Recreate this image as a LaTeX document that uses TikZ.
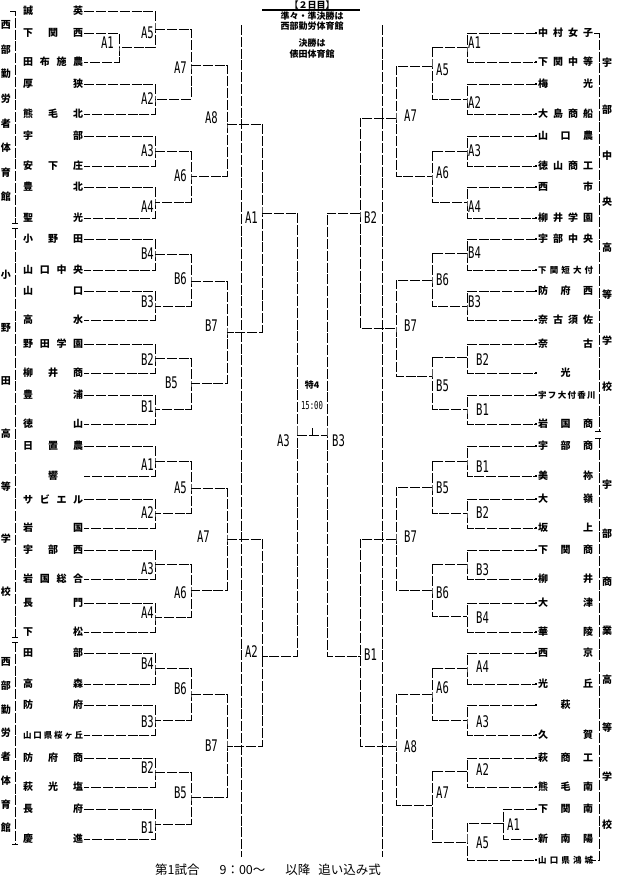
\documentclass[tikz,border=0pt]{standalone}
\usepackage{fontspec}
\setmainfont{Noto Sans CJK JP}
\newfontfamily\labfont[FakeStretch=0.66]{DejaVu Sans Mono}
\usetikzlibrary{arrows.meta}

\newcommand\sm{\fontsize{8.5}{9}\selectfont}

\tikzset{
  ln/.style={line width=1pt, dash pattern=on 10pt off 1.8pt},
  team/.style={inner xsep=1pt, inner ysep=0pt, font=\fontsize{10}{10}\selectfont\bfseries},
  mlab/.style={inner sep=0pt, font=\labfont\fontsize{16}{16}\selectfont},
  side/.style={inner sep=0pt, font=\fontsize{10}{10}\selectfont\bfseries},
  note/.style={inner sep=0pt, font=\fontsize{9}{9}\selectfont\bfseries},
  sq/.style={{Square[length=1.6pt,width=1.6pt]}-{Square[length=1.6pt,width=1.6pt]}},
}

\begin{document}
\begin{tikzpicture}[x=1pt,y=-1pt]
  \useasboundingbox (0,0) rectangle (616,886);

  % Heading
  \node[note] (day) at (312,5) {【２日目】};
  \draw[line width=1.6pt] (262,10) -- (360,10);
  \node[note] (semi1) at (312,16) {準々・準決勝は};
  \node[note] (semi2) at (312,26) {西部勤労体育館};
  \node[note] (fin1) at (312,43) {決勝は};
  \node[note] (fin2) at (312,54) {俵田体育館};

  % Centre separators
  \draw[ln] (241,25) -- (241,857);
  \draw[ln] (382,25) -- (382,857);

  % Left teams
  \foreach \k/\y/\nm in {0/11/誠 英, 1/33/下 関 西, 2/62/田 布 施 農, 3/84/厚 狭,
      4/114/熊 毛 北, 5/136/宇 部, 6/166/安 下 庄, 7/187/豊 北, 8/218/聖 光,
      9/239/小 野 田, 10/270/山 口 中 央, 11/291/山 口, 12/320/高 水,
      13/344/野 田 学 園, 14/373/柳 井 商, 15/395/豊 浦, 16/424/徳 山,
      17/446/日 置 農, 18/476/\hfil 響\hfil, 19/499/サ ビ エ ル, 20/528/岩 国,
      21/550/宇 部 西, 22/579/岩 国 総 合, 23/603/長 門, 24/632/下 松,
      25/653/田 部, 26/684/高 森, 27/705/防 府, 28/735/\sm 山 口 県 桜 ヶ 丘,
      29/758/防 府 商, 30/787/萩 光 塩, 31/809/長 府, 32/839/慶 進} {
    \node[team, anchor=west] (l\k) at (22,\y) {\makebox[60pt][s]{\nm}};
  }

  % Right teams
  \foreach \k/\y/\nm in {1/33/中 村 女 子, 2/62/下 関 中 等, 3/84/梅 光,
      4/114/大 島 商 船, 5/136/山 口 農, 6/166/徳 山 商 工, 7/187/西 市,
      8/218/柳 井 学 園, 9/239/宇 部 中 央, 10/270/\sm 下 関 短 大 付,
      11/291/防 府 西, 12/320/奈 古 須 佐, 13/344/奈 古, 14/373/\hfil 光\hfil,
      15/395/\sm 宇 フ 大 付 香 川, 16/424/岩 国 商, 17/446/宇 部 商,
      18/476/美 祢, 19/499/大 嶺, 20/528/坂 上, 21/550/下 関 商, 22/579/柳 井,
      23/603/大 津, 24/632/華 陵, 25/653/西 京, 26/684/光 丘,
      27/705/\hfil 萩\hfil, 28/735/久 賀, 29/758/萩 商 工, 30/787/熊 毛 南,
      31/809/下 関 南, 32/839/新 南 陽, 33/860/\sm 山 口 県 鴻 城} {
    \node[team, anchor=west] (r\k) at (537,\y) {\makebox[55pt][s]{\nm}};
  }

  % Left match points
  \foreach \c/\t/\x/\y/\d/\o in {LA1t/A1/119/47/5/4, LA5t/A5/155/29/1/-4,
      LA2t/A2/155/99/1/0, LA3t/A3/155/151/1/0, LA4t/A4/155/202/1/-5,
      LA7t/A7/191/65/4/-3, LA6t/A6/191/176/4/0, LA8t/A8/227/124/9/6,
      LB4t/B4/155/254/1/0, LB3t/B3/155/306/1/4, LB2t/B2/155/358/1/-2,
      LB1t/B1/155/409/1/2, LB6t/B6/191/281/4/2, LB5t/B5/191/383/13/0,
      LB7t/B7/227/332/9/6, LA1b/A1/155/461/1/-4, LA2b/A2/155/513/1/0,
      LA3b/A3/155/564/1/-5, LA4b/A4/155/617/1/4, LA5b/A5/191/488/4/0,
      LA6b/A6/191/590/4/-3, LA7b/A7/227/539/17/2, LB4b/B4/155/668/1/4,
      LB3b/B3/155/720/1/-2, LB2b/B2/155/772/1/4, LB1b/B1/155/824/1/-4,
      LB6b/B6/191/694/4/5, LB5b/B5/191/797/4/4, LB7b/B7/227/746/9/0,
      CA1/A1/262/213/4/-5, CA2/A2/262/656/4/4, CA3/A3/297/435/7/-6} {
    \coordinate[label={[mlab,label distance=\d pt,yshift=\o pt]left:\t}] (\c) at (\x,\y);
  }

  % Right match points
  \foreach \c/\t/\x/\y/\d/\o in {RA1t/A1/467/47/1/4, RA2t/A2/467/99/1/-4,
      RA3t/A3/467/151/1/0, RA4t/A4/467/202/1/-5, RA5t/A5/432/66/4/-4,
      RA6t/A6/432/176/4/3, RA7t/A7/396/118/8/2, RB4t/B4/467/253/1/0,
      RB3t/B3/467/306/1/4, RB2t/B2/467/357/9/-3, RB1t/B1/467/409/9/-1,
      RB6t/B6/432/280/4/0, RB5t/B5/432/376/4/-10, RB7t/B7/396/328/8/2,
      RB1b/B1/467/461/9/-6, RB2b/B2/467/513/9/0, RB3b/B3/467/564/9/-6,
      RB4b/B4/467/616/9/-2, RB5b/B5/432/487/4/-1, RB6b/B6/432/590/4/-3,
      RB7b/B7/396/539/8/2, RA4b/A4/467/668/9/1, RA3b/A3/467/720/9/-2,
      RA2b/A2/467/771/9/1, RA1b/A1/503/823/4/-2, RA5b/A5/467/842/9/-1,
      RA6b/A6/432/694/4/6, RA7b/A7/432/805/4/12, RA8b/A8/396/746/8/-1,
      CB2/B2/360/213/4/-5, CB1/B1/360/656/4/1, CB3/B3/327/435/5/-6} {
    \coordinate[label={[mlab,label distance=\d pt,yshift=\o pt]right:\t}] (\c) at (\x,\y);
  }

  % Brackets
  \foreach \a/\m/\b in {l1.east/LA1t/l2.east, l0.east/LA5t/LA1t,
      l3.east/LA2t/l4.east, l5.east/LA3t/l6.east, l7.east/LA4t/l8.east,
      LA5t/LA7t/LA2t, LA3t/LA6t/LA4t, LA7t/LA8t/LA6t,
      l9.east/LB4t/l10.east, l11.east/LB3t/l12.east, l13.east/LB2t/l14.east,
      l15.east/LB1t/l16.east, LB4t/LB6t/LB3t, LB2t/LB5t/LB1t, LB6t/LB7t/LB5t,
      l17.east/LA1b/l18.east, l19.east/LA2b/l20.east, l21.east/LA3b/l22.east,
      l23.east/LA4b/l24.east, LA1b/LA5b/LA2b, LA3b/LA6b/LA4b, LA5b/LA7b/LA6b,
      l25.east/LB4b/l26.east, l27.east/LB3b/l28.east, l29.east/LB2b/l30.east,
      l31.east/LB1b/l32.east, LB4b/LB6b/LB3b, LB2b/LB5b/LB1b, LB6b/LB7b/LB5b,
      LA8t/CA1/LB7t, LA7b/CA2/LB7b, CA1/CA3/CA2,
      RA7t/CB2/RB7t, RB7b/CB1/RA8b, CB2/CB3/CB1,
      RA1t/RA5t/RA2t, RA3t/RA6t/RA4t, RA5t/RA7t/RA6t,
      RB4t/RB6t/RB3t, RB2t/RB5t/RB1t, RB6t/RB7t/RB5t,
      RB1b/RB5b/RB2b, RB3b/RB6b/RB4b, RB5b/RB7b/RB6b,
      RA4b/RA6b/RA3b, RA2b/RA7b/RA5b, RA6b/RA8b/RA7b} {
    \draw[ln] (\a) -| (\m) |- (\b);
  }
  \foreach \a/\m/\b in {r1/RA1t/r2, r3/RA2t/r4, r5/RA3t/r6, r7/RA4t/r8,
      r9/RB4t/r10, r11/RB3t/r12, r13/RB2t/r14, r15/RB1t/r16,
      r17/RB1b/r18, r19/RB2b/r20, r21/RB3b/r22, r23/RB4b/r24,
      r25/RA4b/r26, r27/RA3b/r28, r29/RA2b/r30, r31/RA1b/r32} {
    \draw[ln,sq] (\a.west) -| (\m) |- (\b.west);
  }
  \draw[ln,-{Square[length=1.6pt,width=1.6pt]}] (RA1b) -| (RA5b) |- (r33.west);

  % Final
  \draw[ln] (CA3) -- (CB3) coordinate[pos=0.5] (fin);
  \draw[ln] (fin) -- ++(0,-7);
  \node[note] (tok) at (312,385) {特4};
  \node[inner sep=0pt, font=\labfont\fontsize{11}{11}\selectfont] (time) at (312,405) {15:00};

  % Venue brackets
  \draw[ln] (10,11) -| (15,223);
  \draw (12,223) -- (18,223);
  \draw (12,228) -- (18,228);
  \draw[ln] (15,228) -- (15,637);
  \draw (12,637) -- (18,637);
  \draw (12,642) -- (18,642);
  \draw[ln] (15,642) -- (15,844);
  \draw (12,844) -- (18,844);
  \draw[ln] (594,33) -| (599,431);
  \draw (595,431) -- (601,431);
  \draw (595,438) -- (601,438);
  \draw[ln] (599,438) |- (591,860);

  \foreach \ch [count=\i from 0] in {西,部,勤,労,者,体,育,館}
    \node[side] (va\i) at (6,{25+24.57*\i}) {\ch};
  \foreach \ch [count=\i from 0] in {小,野,田,高,等,学,校}
    \node[side] (vb\i) at (6,{275+52.83*\i}) {\ch};
  \foreach \ch [count=\i from 0] in {西,部,勤,労,者,体,育,館}
    \node[side] (vc\i) at (6,{662+23.71*\i}) {\ch};
  \foreach \ch [count=\i from 0] in {宇,部,中,央,高,等,学,校}
    \node[side] (vd\i) at (607,{63+46.29*\i}) {\ch};
  \foreach \ch [count=\i from 0] in {宇,部,商,業,高,等,学,校}
    \node[side] (ve\i) at (607,{485+48.57*\i}) {\ch};

  % Footer
  \node[inner sep=0pt, font=\fontsize{12.5}{12.5}\selectfont] (foot) at (268,870)
    {第1試合\hspace{20pt}9：00～\hspace{20pt}以降\hspace{8pt}追い込み式};
\end{tikzpicture}
\end{document}
